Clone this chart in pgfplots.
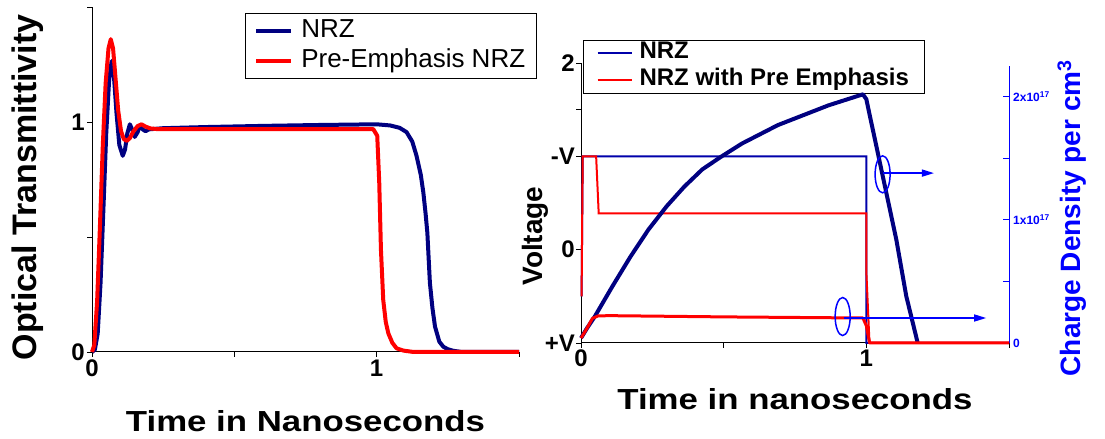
\documentclass[border=0pt]{standalone}
\usepackage{fontspec}
\setmainfont{Liberation Sans}
\usepackage{pgfplots}
\pgfplotsset{compat=1.18}
\usetikzlibrary{arrows.meta}

\definecolor{nrznavy}{RGB}{0,0,128}
\definecolor{nrzblue}{RGB}{0,0,170}
\definecolor{densblue}{RGB}{0,0,255}

% Optical transmittivity (left panel)
\pgfplotstableread{
t      v
0      0
0.01   0.01
0.02   0.08
0.03   0.30
0.04   0.62
0.05   0.95
0.06   1.18
0.069  1.265
0.077  1.20
0.086  1.04
0.096  0.90
0.108  0.853
0.116  0.88
0.124  0.95
0.133  0.99
0.142  0.965
0.150  0.935
0.160  0.955
0.168  0.985
0.178  0.968
0.188  0.960
0.200  0.968
0.250  0.973
0.400  0.978
0.600  0.983
0.800  0.987
1.000  0.990
1.047  0.985
1.080  0.975
1.105  0.956
1.125  0.915
1.140  0.853
1.155  0.77
1.164  0.693
1.172  0.60
1.178  0.519
1.187  0.30
1.196  0.19
1.205  0.11
1.220  0.045
1.234  0.023
1.250  0.012
1.270  0.005
1.300  0
1.500  0
}\nrzopt

\pgfplotstableread{
t      v
0      0
0.008  0.03
0.018  0.22
0.028  0.55
0.038  0.90
0.048  1.17
0.058  1.32
0.066  1.36
0.074  1.32
0.082  1.20
0.092  1.05
0.102  0.96
0.112  0.925
0.123  0.918
0.133  0.93
0.145  0.958
0.160  0.982
0.174  0.99
0.188  0.980
0.205  0.972
0.230  0.969
0.500  0.969
0.988  0.969
1.002  0.94
1.009  0.738
1.015  0.445
1.023  0.227
1.032  0.13
1.041  0.081
1.055  0.04
1.070  0.016
1.094  0.006
1.130  0
1.500  0
}\preopt

% Charge density (right panel, units of 1e17 per cm^3)
\pgfplotstableread{
t      n
0      0.04
0.021  0.12
0.047  0.21
0.110  0.46
0.173  0.70
0.236  0.92
0.300  1.11
0.362  1.27
0.425  1.41
0.489  1.51
0.564  1.62
0.690  1.77
0.867  1.93
0.988  2.02
1.000  1.98
1.010  1.87
1.035  1.60
1.058  1.35
1.105  0.84
1.140  0.38
1.180  0.00
}\nrzcharge

\pgfplotstableread{
t      n
0      0.04
0.021  0.12
0.040  0.20
0.060  0.22
0.100  0.222
0.500  0.212
0.988  0.203
1.000  0.14
1.008  0.04
1.012  0
1.500  0
}\precharge

\begin{document}
\begin{tikzpicture}[x=1bp,y=1bp]
\useasboundingbox (0,0) rectangle (1105,439);

% ---------------- left panel ----------------
\begin{axis}[
  at={(92bp,87bp)}, anchor=south west, scale only axis,
  width=427bp, height=345bp,
  xmin=0, xmax=1.5, ymin=0, ymax=1.5,
  clip=false,
  axis x line=bottom, axis y line=left,
  axis line style={-, black, line width=1bp},
  xtick={0,0.5,1,1.5}, xticklabels={0,,1,},
  ytick={0,0.5,1,1.5}, yticklabels={0,,1,},
  tick align=outside, major tick length=5bp,
  tick style={black, line width=0.8bp},
  tick label style={font=\fontsize{24bp}{28bp}\selectfont\bfseries},
  xticklabel style={inner ysep=3bp},
  yticklabel style={inner xsep=2bp},
  xlabel={\scalebox{1.2}[1]{Time in Nanoseconds}},
  xlabel style={at={(axis description cs:0.5,-0.229)}, anchor=base,
                font=\fontsize{29bp}{34bp}\selectfont\bfseries},
  ylabel={Optical Transmittivity},
  ylabel style={at={(axis description cs:-0.131,0.477)}, anchor=base,
                font=\fontsize{34bp}{40bp}\selectfont\bfseries},
  legend style={at={(axis description cs:0.358,0.983)}, anchor=north west,
                draw=black, line width=0.8bp, fill=white,
                font=\fontsize{26bp}{30bp}\selectfont,
                inner xsep=9bp, inner ysep=3.5bp, row sep=2bp, column sep=6bp,
                nodes={inner sep=2bp, text height=19bp, text depth=5bp},
                cells={anchor=west}},
  legend image code/.code={\draw[#1] (0bp,0bp) -- (35bp,0bp);},
]
\addplot[nrznavy, line width=4bp, line join=round] table[x=t, y=v] {\nrzopt};
\addlegendentry{NRZ}
\addplot[red, line width=4bp, line join=round] table[x=t, y=v] {\preopt};
\addlegendentry{Pre-Emphasis NRZ}
\end{axis}

% ---------------- right panel: drive voltage ----------------
\begin{axis}[
  at={(581bp,96bp)}, anchor=south west, scale only axis,
  width=428bp, height=280bp,
  xmin=0, xmax=1.5, ymin=0, ymax=3,
  clip=false,
  axis x line=bottom, axis y line=left,
  axis line style={-, black, line width=1bp},
  xtick={0,0.5,1,1.5}, xticklabels={0,,1,},
  ytick={0,1,2,3}, yticklabels={+V,0,-V,2},
  minor ytick={2.5},
  tick align=outside, major tick length=5bp, minor tick length=5bp,
  tick style={black, line width=0.8bp},
  tick label style={font=\fontsize{24bp}{28bp}\selectfont\bfseries},
  xticklabel style={inner ysep=2bp},
  yticklabel style={inner xsep=1bp},
  xlabel={\scalebox{1.2}[1]{Time in nanoseconds}},
  xlabel style={at={(axis description cs:0.5,-0.239)}, anchor=base,
                font=\fontsize{29bp}{34bp}\selectfont\bfseries},
  ylabel={Voltage},
  ylabel style={at={(axis description cs:-0.089,0.382)}, anchor=base,
                font=\fontsize{28bp}{34bp}\selectfont\bfseries},
  legend style={at={(axis description cs:0.005,1.082)}, anchor=north west,
                draw=black, line width=0.8bp, fill=white,
                font=\fontsize{24bp}{28bp}\selectfont\bfseries,
                inner xsep=13bp, inner ysep=0.5bp, row sep=2bp, column sep=5bp,
                nodes={inner sep=2bp, text height=16bp, text depth=5bp},
                cells={anchor=west}},
  legend image code/.code={\draw[#1] (0bp,0bp) -- (34bp,0bp);},
]
\addplot[nrzblue, line width=2bp] coordinates {
  (0.002,0.5) (0.006,2) (1.0,2) (1.0,0) (1.5,0)};
\addlegendentry{NRZ}
\addplot[red, line width=2bp] coordinates {
  (0.002,0.5) (0.006,2) (0.053,2) (0.062,1.39) (1.0,1.39) (1.0,0.76) (1.011,0) (1.5,0)};
\addlegendentry{NRZ with Pre Emphasis}
\end{axis}

% ---------------- right panel: charge density ----------------
\begin{axis}[
  at={(581bp,96bp)}, anchor=south west, scale only axis,
  width=428bp, height=277bp,
  xmin=0, xmax=1.5, ymin=0, ymax=2.25,
  clip=false,
  axis x line=none, axis y line=right,
  axis line style={-, densblue, line width=1bp},
  xtick=\empty,
  ytick={0,1,2},
  yticklabels={0, 1x10\textsuperscript{17}, 2x10\textsuperscript{17}},
  minor ytick={0.5,1.5},
  tick align=inside, major tick length=6bp, minor tick length=6bp,
  tick style={densblue, line width=0.8bp},
  tick label style={densblue, font=\fontsize{12bp}{14bp}\selectfont\bfseries},
  yticklabel style={inner xsep=4bp},
  ylabel={Charge Density per cm\textsuperscript{3}},
  ylabel style={at={(axis description cs:1.166,0.451)}, anchor=base, rotate=0,
                densblue, font=\fontsize{28bp}{34bp}\selectfont\bfseries},
]
\addplot[nrznavy, line width=4bp, line join=round] table[x=t, y=n] {\nrzcharge};
\addplot[red, line width=3bp, line join=round] table[x=t, y=n] {\precharge};

% markers linking the curves to the density axis
\draw[densblue, line width=1.5bp] (axis cs:1.057,1.37) ellipse [x radius=7.5bp, y radius=18.5bp];
\draw[densblue, line width=1.5bp, -{Triangle[length=12bp, width=7bp]}]
  (axis cs:1.057,1.38) -- (axis cs:1.237,1.38);
\draw[densblue, line width=1.5bp] (axis cs:0.917,0.215) ellipse [x radius=7.5bp, y radius=19bp];
\draw[densblue, line width=1.5bp, -{Triangle[length=12bp, width=7bp]}]
  (axis cs:0.92,0.203) -- (axis cs:1.42,0.203);
\end{axis}
\end{tikzpicture}
\end{document}
